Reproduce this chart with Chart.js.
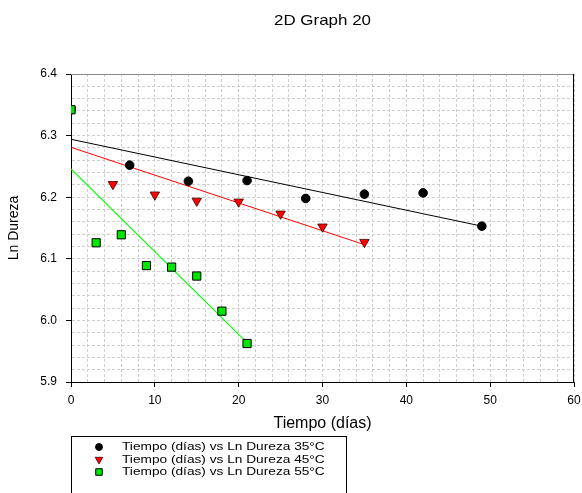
<!DOCTYPE html>
<html><head><meta charset="utf-8">
<script src="https://cdn.jsdelivr.net/npm/chart.js@4.4.1/dist/chart.umd.min.js"></script>
<style>html,body{margin:0;padding:0;background:#fff;overflow:hidden}#wrap{width:582px;height:493px;position:relative}</style>
</head><body><div id="wrap"><canvas id="c"></canvas></div>
<script>
const chartTitle = '2D Graph 20';
const xTitle = 'Tiempo (días)';
const yTitle = 'Ln Dureza';
const seriesLabels = ['Tiempo (días) vs Ln Dureza 35°C','Tiempo (días) vs Ln Dureza 45°C','Tiempo (días) vs Ln Dureza 55°C'];
const days35 = [0,7,14,21,28,35,42,49];
const lnDureza35 = [6.342,6.252,6.226,6.227,6.198,6.205,6.207,6.153];
const days45 = [0,5,10,15,20,25,30,35];
const lnDureza45 = [6.342,6.221,6.204,6.194,6.1925,6.173,6.152,6.127];
const days55 = [0,3,6,9,12,15,18,21];
const lnDureza55 = [6.342,6.126,6.139,6.089,6.0865,6.072,6.015,5.9625];
const fitDays35 = [0,49], fitLn35 = [6.294,6.153];
const fitDays45 = [0,35], fitLn45 = [6.281,6.123];
const fitDays55 = [0,21], fitLn55 = [6.246,5.964];
const xTickLabels = [0,10,20,30,40,50,60];
const yTickLabels = ['5.9','6.0','6.1','6.2','6.3','6.4'];

const FONT = '"Liberation Sans", Arial, sans-serif';
const pts = (xs, ys) => xs.map((x, i) => ({x, y: ys[i]}));

const scatterStyles = [
  {pointStyle:'circle', rotation:0, radius:4.3, backgroundColor:'#000', borderColor:'#000', borderWidth:1},
  {pointStyle:'triangle', rotation:180, radius:5.5, backgroundColor:'#ff0000', borderColor:'#3a0000', borderWidth:0.8},
  {pointStyle:'rect', rotation:0, radius:5.8, backgroundColor:'#00e600', borderColor:'#000', borderWidth:1}
];

const datasets = [
  {type:'line', label:'fit55', data:pts(fitDays55, fitLn55), borderColor:'#00ff00', borderWidth:1.1, pointRadius:0, fill:false, order:10},
  {type:'line', label:'fit45', data:pts(fitDays45, fitLn45), borderColor:'#ff0000', borderWidth:1, pointRadius:0, fill:false, order:11},
  {type:'line', label:'fit35', data:pts(fitDays35, fitLn35), borderColor:'#000', borderWidth:1, pointRadius:0, fill:false, order:12},
  {type:'scatter', label:seriesLabels[0], data:pts(days35, lnDureza35), order:3},
  {type:'scatter', label:seriesLabels[1], data:pts(days45, lnDureza45), order:2},
  {type:'scatter', label:seriesLabels[2], data:pts(days55, lnDureza55), order:1}
];
[3,4,5].forEach((k, i) => {
  const s = scatterStyles[i];
  Object.assign(datasets[k], {pointStyle:s.pointStyle, rotation:s.rotation, pointRadius:s.radius, pointHoverRadius:s.radius,
    backgroundColor:s.backgroundColor, borderColor:s.borderColor, pointBorderWidth:s.borderWidth});
});

const isMajor = (v, m) => Math.abs(v / m - Math.round(v / m)) < 1e-6;

function stretchedText(ctx, text, x, y, sx) {
  ctx.save();
  ctx.translate(x, y);
  ctx.scale(sx, 1);
  ctx.fillText(text, 0, 0);
  ctx.restore();
}

const decor = {
  id:'decor',
  afterDraw(chart){
    const ctx = chart.ctx, a = chart.chartArea;
    ctx.save();
    ctx.lineWidth = 1;
    ctx.strokeStyle = '#8a8a8a';
    ctx.beginPath(); ctx.moveTo(a.left, a.top + 0.5); ctx.lineTo(a.right, a.top + 0.5); ctx.stroke();
    ctx.strokeStyle = '#000';
    ctx.beginPath(); ctx.moveTo(a.right - 0.5, a.top); ctx.lineTo(a.right - 0.5, a.bottom); ctx.stroke();
    // title
    ctx.fillStyle = '#000';
    ctx.font = '15px ' + FONT;
    ctx.textAlign = 'center'; ctx.textBaseline = 'middle';
    stretchedText(ctx, chartTitle, (a.left + a.right) / 2, 21, 1.13);
    // legend
    const bx = 71.5, by = 436.5, bw = 275, bh = 80;
    ctx.strokeStyle = '#000'; ctx.lineWidth = 1;
    ctx.strokeRect(bx, by, bw, bh);
    ctx.font = '11.5px ' + FONT;
    ctx.textAlign = 'left';
    const rowY = [447, 459.5, 472];
    scatterStyles.forEach((s, i) => {
      ctx.fillStyle = s.backgroundColor; ctx.strokeStyle = s.borderColor; ctx.lineWidth = s.borderWidth;
      Chart.helpers.drawPoint(ctx, {pointStyle:s.pointStyle, rotation:s.rotation, radius:s.radius * 0.8, borderWidth:s.borderWidth}, 99, rowY[i]);
      ctx.fillStyle = '#000';
      stretchedText(ctx, seriesLabels[i], 122, rowY[i], 1.19);
    });
    ctx.restore();
  }
};

new Chart(document.getElementById('c'), {
  data:{datasets},
  options:{
    responsive:true, maintainAspectRatio:false, animation:false,
    layout:{padding:{top:74, right:8, left:0, bottom:0}},
    plugins:{legend:{display:false}, tooltip:{enabled:false}, title:{display:false}},
    scales:{
      x:{type:'linear', min:0, max:60,
        afterFit(s){ s.height = 111; s.paddingRight = 4; s.paddingLeft = 4; },
        ticks:{stepSize:2, autoSkip:false, maxRotation:0, padding:6, color:'#000', font:{size:12, family:FONT},
          callback:(v) => xTickLabels.includes(v) ? String(v) : ''},
        grid:{color:'#cfcfcf', lineWidth:1, tickLength:5, tickWidth:1,
          tickColor:(c) => (c.tick && isMajor(c.tick.value, 10)) ? '#000' : 'rgba(0,0,0,0)'},
        border:{display:true, color:'#000', width:1, dash:[3,2]},
        title:{display:true, text:xTitle, color:'#000', font:{size:16, family:FONT}, padding:{top:0, bottom:60}}
      },
      y:{type:'linear', min:5.9, max:6.4,
        afterFit(s){ s.width = 71; },
        ticks:{stepSize:0.02, autoSkip:false, padding:9, color:'#000', font:{size:12, family:FONT},
          callback:(v) => { const t = (Math.round(v * 10) / 10).toFixed(1); return (isMajor(v, 0.1) && yTickLabels.includes(t)) ? t : ''; }},
        grid:{color:'#cfcfcf', lineWidth:1, tickLength:5, tickWidth:1,
          tickColor:(c) => (c.tick && isMajor(c.tick.value, 0.1)) ? '#000' : 'rgba(0,0,0,0)'},
        border:{display:true, color:'#000', width:1, dash:[3,2]},
        title:{display:true, text:yTitle, color:'#000', font:{size:14, family:FONT}, padding:{top:6, bottom:0}}
      }
    }
  },
  plugins:[decor]
});
</script></body></html>
